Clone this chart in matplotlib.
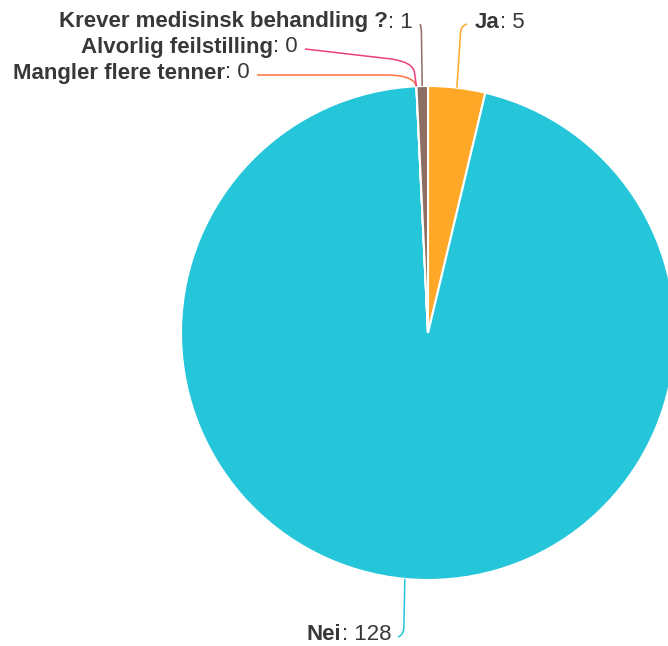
import numpy as np
import matplotlib
matplotlib.use("Agg")
import matplotlib.pyplot as plt
from matplotlib.path import Path
from matplotlib.patches import PathPatch

categories = ["Ja", "Nei", "Mangler flere tenner", "Alvorlig feilstilling", "Krever medisinsk behandling ?"]
values = [5, 128, 0, 0, 1]
colors = ["#ffa726", "#26c6da", "#ff7043", "#ec407a", "#8d6e63"]

W, H = 668, 646
fig = plt.figure(figsize=(W / 100, H / 100), dpi=100)
ax = fig.add_axes([0, 0, 1, 1])
cx, cy, R = 428, H - 333, 247

wedges, _ = ax.pie(values, colors=colors, startangle=90, counterclock=False,
                   center=(cx, cy), radius=R,
                   wedgeprops=dict(edgecolor="white", linewidth=1.5))
ax.set_xlim(0, W)
ax.set_ylim(0, H)
ax.set_aspect("equal")
ax.axis("off")

layout = {
    "Ja": (475, 22, "left"),
    "Nei": (391, 635, "right"),
    "Mangler flere tenner": (250, 73, "right"),
    "Alvorlig feilstilling": (298, 47, "right"),
    "Krever medisinsk behandling ?": (413, 22, "right"),
}

fig.canvas.draw()
renderer = fig.canvas.get_renderer()
fs = 16.0
tc = "#383838"

for w, name, val, col in zip(wedges, categories, values, colors):
    mid = np.deg2rad((w.theta1 + w.theta2) / 2)
    px = cx + R * np.cos(mid)
    py = cy + R * np.sin(mid)
    tx, ty, side = layout[name]
    ty = H - ty
    if side == "right":
        t2 = ax.text(tx, ty, f": {val}", ha="right", va="center", fontsize=fs,
                     color=tc, family="Liberation Sans")
        bb = t2.get_window_extent(renderer)
        ax.text(bb.x0, ty, name, ha="right", va="center", fontsize=fs,
                color=tc, family="Liberation Sans", fontweight="bold")
        lx = tx + 7
    else:
        t1 = ax.text(tx, ty, name, ha="left", va="center", fontsize=fs,
                     color=tc, family="Liberation Sans", fontweight="bold")
        bb = t1.get_window_extent(renderer)
        ax.text(bb.x1, ty, f": {val}", ha="left", va="center", fontsize=fs,
                color=tc, family="Liberation Sans")
        lx = tx - 8
    ly = ty - 2
    if name in ("Ja", "Krever medisinsk behandling ?"):
        ex = px + (lx - px) * 0.35
        verts = [(px, py), (ex, ly - 10), (ex, ly - 2), (lx, ly)]
        codes = [Path.MOVETO, Path.LINETO, Path.CURVE3, Path.CURVE3]
    elif name == "Nei":
        ex = px - 1
        verts = [(px, py), (ex, ly + 10), (ex, ly + 2), (lx, ly)]
        codes = [Path.MOVETO, Path.LINETO, Path.CURVE3, Path.CURVE3]
    elif name.startswith("Alv"):
        verts = [(px, py), (px - 2, H - 72), (px - 4, H - 62), (px - 25, H - 59), (lx, ly)]
        codes = [Path.MOVETO, Path.LINETO, Path.CURVE3, Path.CURVE3, Path.LINETO]
    else:
        verts = [(px, py), (px - 3, ly), (px - 30, ly), (lx, ly)]
        codes = [Path.MOVETO, Path.CURVE3, Path.CURVE3, Path.LINETO]
    ax.add_patch(PathPatch(Path(verts, codes), fill=False, edgecolor=col, lw=1.1))

fig.savefig("out.png", dpi=100)
